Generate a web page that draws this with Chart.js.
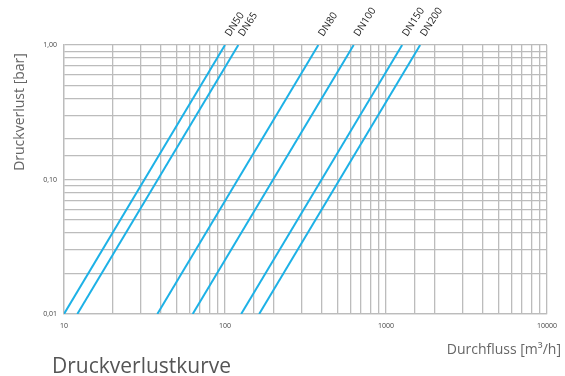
<!DOCTYPE html>
<html>
<head>
<meta charset="utf-8">
<script src="https://cdn.jsdelivr.net/npm/chart.js@4.4.1/dist/chart.umd.min.js"></script>
<style>
  html, body { margin: 0; padding: 0; background: #fff; }
  #wrap { width: 565px; height: 376px; position: relative; }
</style>
</head>
<body>
<div id="wrap"><canvas id="c" width="565" height="376"></canvas></div>
<script>
// Nominal sizes and their pressure-loss lines (Δp = (Q/Kv)², straight on log-log paper)
const sizes = ['DN50', 'DN65', 'DN80', 'DN100', 'DN150', 'DN200'];
// Flow rate [m³/h] at the ends of each line
const flowAtLow  = [10, 12.1, 38, 63, 126, 163];
const flowAtHigh = [100, 121, 380, 630, 1260, 1630];
// Pressure loss [bar] at the ends of each line
const lossEnds = [0.01, 1.0];

const xMajor = [10, 100, 1000, 10000];
const yMajor = [0.01, 0.1, 1];

const lineColor = '#1db1e6';
const gridColor = '#bcbcbc';
const tickColor = '#444';

const datasets = sizes.map((name, i) => ({
  label: name,
  data: [
    { x: flowAtLow[i],  y: lossEnds[0] },
    { x: flowAtHigh[i], y: lossEnds[1] }
  ],
  borderColor: lineColor,
  borderWidth: 2,
  pointRadius: 0,
  fill: false,
  tension: 0
}));

const isMajor = (v, list) => list.some(m => Math.abs(v - m) / m < 1e-6);

// Labels for the lines, rotated and placed just above each line's upper end
const seriesLabels = {
  id: 'seriesLabels',
  afterDatasetsDraw(chart) {
    const { ctx, scales } = chart;
    ctx.save();
    ctx.font = '10px "Open Sans", sans-serif';
    ctx.fillStyle = '#222';
    ctx.textBaseline = 'alphabetic';
    ctx.textAlign = 'left';
    chart.data.datasets.forEach(ds => {
      const p = ds.data[ds.data.length - 1];
      const px = scales.x.getPixelForValue(p.x);
      const py = scales.y.getPixelForValue(p.y);
      ctx.save();
      ctx.translate(px + 5, py - 8);
      ctx.rotate(-57 * Math.PI / 180);
      ctx.fillText(ds.label, 0, 0);
      ctx.restore();
    });
    ctx.restore();
  }
};

// Axis titles and the caption
const textBlocks = {
  id: 'textBlocks',
  afterDraw(chart) {
    const { ctx } = chart;
    ctx.save();
    ctx.fillStyle = '#666';
    ctx.font = '14px "Open Sans", sans-serif';
    ctx.textBaseline = 'middle';
    // y title
    ctx.save();
    ctx.translate(20, 112);
    ctx.rotate(-Math.PI / 2);
    ctx.textAlign = 'center';
    ctx.fillText('Druckverlust [bar]', 0, 0);
    ctx.restore();
    // x title
    ctx.textAlign = 'right';
    ctx.fillText('Durchfluss [m³/h]', 561, 350);
    // caption
    ctx.fillStyle = '#555';
    ctx.font = '21px "Open Sans", sans-serif';
    ctx.textAlign = 'left';
    ctx.fillText('Druckverlustkurve', 52, 367);
    ctx.restore();
  }
};

new Chart(document.getElementById('c'), {
  type: 'line',
  data: { datasets },
  options: {
    responsive: false,
    animation: false,
    layout: { padding: { top: 45, right: 18, left: 0, bottom: 0 } },
    plugins: { legend: { display: false }, tooltip: { enabled: false } },
    scales: {
      x: {
        type: 'logarithmic',
        min: 10,
        max: 10000,
        afterFit(s) { s.height = 62; },
        grid: { color: gridColor, lineWidth: 1.3, drawTicks: false },
        border: { color: gridColor, width: 1.3 },
        ticks: {
          autoSkip: false,
          maxRotation: 0,
          padding: 8,
          color: tickColor,
          font: { size: 7, family: '"Open Sans", sans-serif' },
          callback: v => isMajor(v, xMajor) ? String(v) : ''
        }
      },
      y: {
        type: 'logarithmic',
        min: 0.01,
        max: 1,
        afterFit(s) { s.width = 64; },
        grid: { color: gridColor, lineWidth: 1.3, drawTicks: false },
        border: { color: gridColor, width: 1.3 },
        ticks: {
          autoSkip: false,
          padding: 7,
          color: tickColor,
          font: { size: 7, family: '"Open Sans", sans-serif' },
          callback: v => isMajor(v, yMajor) ? v.toFixed(2).replace('.', ',') : ''
        }
      }
    }
  },
  plugins: [seriesLabels, textBlocks]
});
</script>
</body>
</html>
